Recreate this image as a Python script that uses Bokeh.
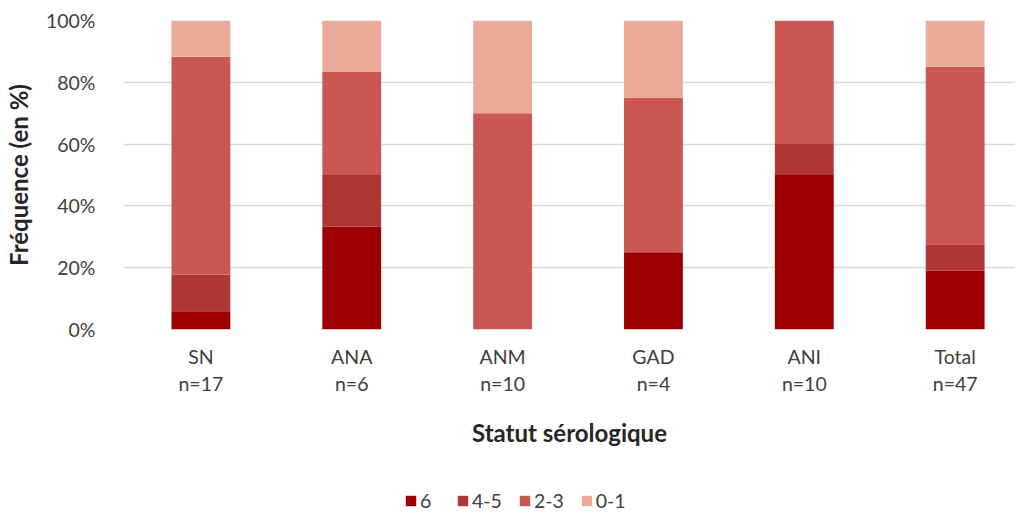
import numpy as np
from bokeh.plotting import figure
from bokeh.layouts import column
from bokeh.models import ColumnDataSource, FixedTicker, Legend, LegendItem, Range1d
from bokeh.embed import file_html
from bokeh.resources import INLINE

categories = ["SN", "ANA", "ANM", "GAD", "ANI", "Total"]
counts = [17, 6, 10, 4, 10, 47]
series_names = ["6", "4-5", "2-3", "0-1"]
s6 = [5.9, 33.3, 0.0, 25.0, 50.0, 19.1]
s45 = [11.8, 16.7, 0.0, 0.0, 10.0, 8.5]
s23 = [70.6, 33.3, 70.0, 50.0, 40.0, 57.4]
s01 = [11.7, 16.7, 30.0, 25.0, 0.0, 15.0]
y_ticks = [0, 20, 40, 60, 80, 100]

colors = ["#9c0000", "#b03535", "#cb5753", "#ebaa98"]
FONT = "Lato"
TXT = "#404040"

xpos = list(range(len(categories)))
source = ColumnDataSource(dict(x=xpos, s6=s6, s45=s45, s23=s23, s01=s01))

p = figure(width=1015, height=470, output_backend="svg", toolbar_location=None,
           x_range=Range1d(-0.513, 5.40), y_range=Range1d(0, 100),
           min_border_left=117, min_border_top=20, min_border_right=0,
           min_border_bottom=141)
p.outline_line_color = None

renderers = p.vbar_stack(["s6", "s45", "s23", "s01"], x="x", width=0.39,
                         color=colors, source=source, line_color=None)

# axes
p.xaxis.ticker = FixedTicker(ticks=xpos)
p.xaxis.major_label_overrides = {i: f"{c}\nn={n}" for i, (c, n) in enumerate(zip(categories, counts))}
p.yaxis.ticker = FixedTicker(ticks=y_ticks)
p.yaxis.major_label_overrides = {t: f"{t}%" for t in y_ticks}
for ax in (p.xaxis[0], p.yaxis[0]):
    ax.axis_line_color = None
    ax.major_tick_line_color = None
    ax.minor_tick_line_color = None
    ax.major_label_text_font = FONT
    ax.major_label_text_font_size = "19.5px"
    ax.major_label_text_color = TXT
    ax.axis_label_text_font = FONT
    ax.axis_label_text_font_size = "24px"
    ax.axis_label_text_font_style = "bold"
    ax.axis_label_text_color = "#262626"
p.xaxis.axis_label = "Statut sérologique"
p.yaxis.axis_label = "Fréquence (en %)"
p.yaxis.major_label_standoff = 22
p.yaxis.axis_label_standoff = 10
p.xaxis.major_label_standoff = 9
p.xaxis.axis_label_standoff = 20

p.xgrid.grid_line_color = None
p.ygrid.ticker = FixedTicker(ticks=y_ticks)
p.ygrid.grid_line_color = "#d9d9d9"
p.ygrid.grid_line_width = 1.5

# legend strip (separate figure, no axes); legend glyphs reuse the series columns,
# whose bars fall outside this strip's ranges
lg = figure(width=1015, height=42, output_backend="svg", toolbar_location=None,
            x_axis_type=None, y_axis_type=None,
            x_range=Range1d(-10, -9), y_range=Range1d(0, 100),
            min_border_left=0, min_border_right=0, min_border_top=0, min_border_bottom=0)
lg.grid.grid_line_color = None
lg.outline_line_color = None
lg_renderers = lg.vbar_stack(["s6", "s45", "s23", "s01"], x="x", width=0.39,
                             color=colors, source=source, line_color=None)
items = [LegendItem(label=name, renderers=[r]) for name, r in zip(series_names, lg_renderers)]
legend = Legend(items=items, orientation="horizontal", location=(281, 0),
                glyph_width=13, glyph_height=13, label_standoff=3, spacing=16,
                padding=0, margin=0, border_line_color=None, background_fill_alpha=0,
                label_text_font=FONT, label_text_font_size="19.5px", label_text_color=TXT)
lg.add_layout(legend, "center")

layout = column(p, lg, spacing=0)
open("out.html", "w").write(file_html(layout, INLINE))
